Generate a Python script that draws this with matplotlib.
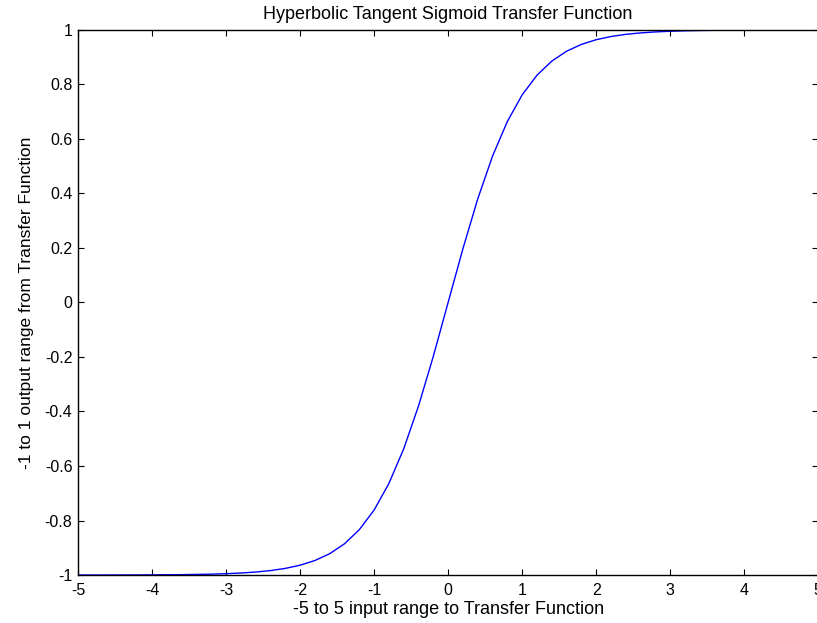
import numpy as np
import matplotlib.pyplot as plt

plt.rcParams['font.family'] = ['Liberation Sans', 'DejaVu Sans']

# input samples from -5 to 5 in steps of 0.2
n = np.linspace(-5, 5, 51)

# tansig output at each input sample
a = [-0.9999, -0.9999, -0.9998, -0.9997, -0.9996, -0.9993, -0.9990, -0.9985,
     -0.9978, -0.9967, -0.9951, -0.9926, -0.9890, -0.9837, -0.9757, -0.9640,
     -0.9468, -0.9217, -0.8854, -0.8337, -0.7616, -0.6640, -0.5370, -0.3799,
     -0.1974, 0.0,
     0.1974, 0.3799, 0.5370, 0.6640, 0.7616, 0.8337, 0.8854, 0.9217,
     0.9468, 0.9640, 0.9757, 0.9837, 0.9890, 0.9926, 0.9951, 0.9967,
     0.9978, 0.9985, 0.9990, 0.9993, 0.9996, 0.9997, 0.9998, 0.9999, 0.9999]

x_ticks = [-5, -4, -3, -2, -1, 0, 1, 2, 3, 4, 5]
y_ticks = [-1, -0.8, -0.6, -0.4, -0.2, 0, 0.2, 0.4, 0.6, 0.8, 1]
y_labels = ['-1', '-0.8', '-0.6', '-0.4', '-0.2', '0', '0.2', '0.4', '0.6', '0.8', '1']

fig = plt.figure(figsize=(8.17, 6.23), dpi=100)
ax = fig.add_axes([0.0955, 0.077, 0.906, 0.875])

ax.plot(n, a, color=(0, 0, 1), linewidth=1.0)

ax.set_xlim(-5, 5)
ax.set_ylim(-1, 1)
ax.set_xticks(x_ticks)
ax.set_xticklabels([str(t) for t in x_ticks])
ax.set_yticks(y_ticks)
ax.set_yticklabels(y_labels)

ax.tick_params(direction='in', length=4.5, width=0.8, labelsize=11.5,
               top=True, right=True)
ax.tick_params(axis='x', pad=6)
ax.tick_params(axis='y', pad=4)
for side in ax.spines.values():
    side.set_linewidth(1.0)

ax.set_title('Hyperbolic Tangent Sigmoid Transfer Function', fontsize=13, pad=8)
ax.set_xlabel('-5 to 5 input range to Transfer Function', fontsize=13, labelpad=2)
ax.set_ylabel('-1 to 1 output range from Transfer Function', fontsize=12.5, labelpad=8)

fig.savefig('out.png', dpi=100)
